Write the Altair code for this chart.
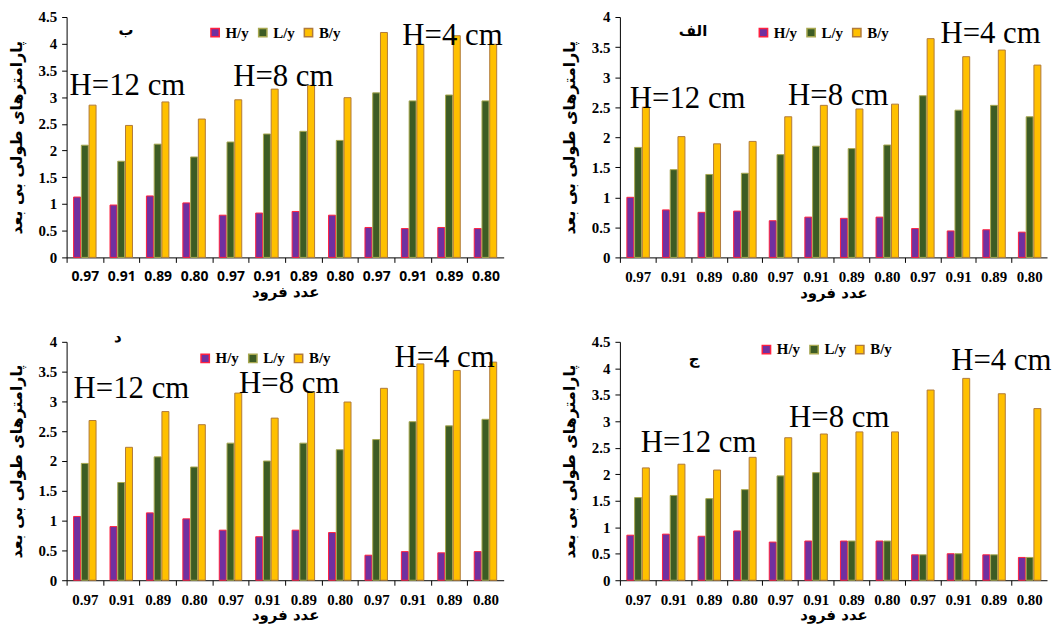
import altair as alt
import pandas as pd

froude = ["0.97", "0.91", "0.89", "0.80"] * 3
series = ["H/y", "L/y", "B/y"]
fills = ["#7030A0", "#3D5C24", "#FFC000"]
strokes = ["#FF2040", "#A8A850", "#B07A3A"]

# panel ب (top-left)
b_H = [1.13, 0.98, 1.15, 1.02, 0.79, 0.83, 0.86, 0.79, 0.56, 0.54, 0.56, 0.54]
b_L = [2.10, 1.80, 2.12, 1.88, 2.16, 2.31, 2.36, 2.19, 3.08, 2.93, 3.04, 2.93]
b_B = [2.85, 2.47, 2.91, 2.59, 2.95, 3.15, 3.22, 2.99, 4.21, 3.99, 4.15, 3.99]

# panel الف (top-right)
a_H = [1.00, 0.79, 0.75, 0.77, 0.61, 0.67, 0.65, 0.67, 0.48, 0.44, 0.46, 0.42]
a_L = [1.83, 1.46, 1.38, 1.40, 1.71, 1.85, 1.81, 1.87, 2.69, 2.45, 2.53, 2.34]
a_B = [2.50, 2.01, 1.89, 1.93, 2.34, 2.53, 2.47, 2.55, 3.64, 3.34, 3.45, 3.20]

# panel د (bottom-left)
d_H = [1.07, 0.90, 1.13, 1.03, 0.84, 0.73, 0.84, 0.80, 0.42, 0.48, 0.46, 0.48]
d_L = [1.96, 1.64, 2.07, 1.90, 2.30, 2.00, 2.30, 2.19, 2.36, 2.66, 2.59, 2.70]
d_B = [2.68, 2.23, 2.83, 2.61, 3.14, 2.72, 3.16, 2.99, 3.22, 3.63, 3.52, 3.66]

# panel ج (bottom-right)
j_H = [0.85, 0.87, 0.83, 0.93, 0.72, 0.74, 0.74, 0.74, 0.48, 0.50, 0.48, 0.43]
j_L = [1.56, 1.60, 1.54, 1.71, 1.97, 2.03, 0.74, 0.74, 0.48, 0.50, 0.48, 0.43]
j_B = [2.12, 2.19, 2.08, 2.32, 2.69, 2.76, 2.80, 2.80, 3.59, 3.81, 3.52, 3.24]

y_title = "پارامترهای طولی بی بعد"
x_title = "عدد فرود"
ann_texts = ["H=12 cm", "H=8 cm", "H=4 cm"]

SERIF = "Liberation Serif"
ARAB = "DejaVu Sans"


def panel(H, L, B, ymax, width, height, letter, letter_pos, anns, legend_xy,
          xlabel_font=SERIF, xlabel_size=15):
    rows = []
    for i in range(12):
        for s, vals in zip(series, (H, L, B)):
            rows.append({"idx": i, "series": s, "value": vals[i]})
    df = pd.DataFrame(rows)
    step = width / 12.0
    label_expr = "[" + ",".join("'%s'" % f for f in froude) + "][datum.value]"
    xaxis = alt.Axis(
        labelExpr=label_expr, labelAngle=0, tickOffset=-step / 2,
        labelOffset=step / 2, labelFont=xlabel_font, labelFontSize=xlabel_size,
        labelFontWeight="bold", labelPadding=7, titleFont=ARAB,
        titleFontSize=15, titleFontWeight="bold", titlePadding=1,
        labelOverlap=False,
    )
    xscale = alt.Scale(paddingInner=0, paddingOuter=0)
    yvals = [v / 2 for v in range(int(ymax * 2) + 1)]
    yaxis = alt.Axis(
        values=yvals, format=".1~f", labelFont=SERIF, labelFontSize=15,
        labelFontWeight="bold", grid=False, titleFont=ARAB,
        titleFontSize=16, titleFontWeight="bold", titlePadding=14,
        labelOverlap=False, labelPadding=5,
    )
    yscale = alt.Scale(domain=[0, ymax], nice=False)
    leg = alt.Legend(
        title=None, orient="none", legendX=legend_xy[0], legendY=legend_xy[1],
        direction="horizontal", symbolType="square", symbolSize=70,
        symbolStrokeWidth=1.5, labelFont=SERIF, labelFontSize=15,
        labelFontWeight="bold", columnPadding=6, labelOffset=3,
    )
    bars = alt.Chart(df).mark_bar(strokeWidth=1).encode(
        x=alt.X("idx:O", scale=xscale, title=x_title, axis=xaxis),
        xOffset=alt.XOffset("series:N", sort=series,
                            scale=alt.Scale(paddingInner=0.1, paddingOuter=0.9)),
        y=alt.Y("value:Q", scale=yscale, title=y_title, axis=yaxis),
        fill=alt.Fill("series:N", sort=series,
                      scale=alt.Scale(domain=series, range=fills), legend=leg),
        stroke=alt.Stroke("series:N", sort=series,
                          scale=alt.Scale(domain=series, range=strokes), legend=leg),
    )
    layers = [bars]

    def txt_layer(tdf, **mk):
        return alt.Chart(tdf).mark_text(**mk).encode(
            x=alt.X("idx:O", bandPosition=0, scale=xscale, title=x_title, axis=xaxis),
            y=alt.Y("y:Q", scale=yscale, title=y_title, axis=yaxis),
            text="t:N",
        )

    for text, (ci, yv, dx) in zip(ann_texts, anns):
        tdf = pd.DataFrame({"idx": [ci], "y": [yv], "t": [text]})
        layers.append(txt_layer(tdf, align="left", baseline="middle", font=SERIF,
                                fontSize=31, color="black", dx=dx))
    ci, yv, dx = letter_pos
    ldf = pd.DataFrame({"idx": [ci], "y": [yv], "t": [letter]})
    layers.append(txt_layer(ldf, align="center", baseline="middle", font=ARAB,
                            fontSize=15, fontWeight="bold", color="black", dx=dx))
    return alt.layer(*layers).properties(width=width, height=height)


tl = panel(b_H, b_L, b_B, 4.5, 440, 242, "ب", (1, 4.26, 23),
           [(0, 3.21, 3), (4, 3.38, 21), (9, 4.15, 8)], (142, 8),
           xlabel_font="Open Sans", xlabel_size=14)
tr = panel(a_H, a_L, a_B, 4.0, 430, 242, "الف", (2, 3.77, 2),
           [(0, 2.64, 10), (4, 2.69, 26), (8, 3.72, 36)], (137, 8))
bl = panel(d_H, d_L, d_B, 4.0, 440, 240, "د", (1, 4.08, 15),
           [(0, 3.21, 7), (4, 3.29, 27), (9, 3.72, 0)], (132, 9))
br = panel(j_H, j_L, j_B, 4.5, 430, 240, "ج", (1, 4.18, 39),
           [(0, 2.59, 21), (4, 3.06, 27), (9, 4.14, 11)], (140, 0))

indep = dict(fill="independent", stroke="independent")
top = alt.hconcat(tl, tr, spacing=58).resolve_scale(**indep).resolve_legend(**indep)
bottom = alt.hconcat(bl, br, spacing=58).resolve_scale(**indep).resolve_legend(**indep)

chart = alt.vconcat(top, bottom, spacing=30).resolve_scale(**indep).resolve_legend(
    **indep
).properties(padding=0).configure_view(stroke=None).configure_axis(
    domainColor="black", tickColor="black", labelColor="black",
    titleColor="black", tickSize=5,
)

chart.save("out.html", embed_options={"renderer": "svg", "actions": False})
